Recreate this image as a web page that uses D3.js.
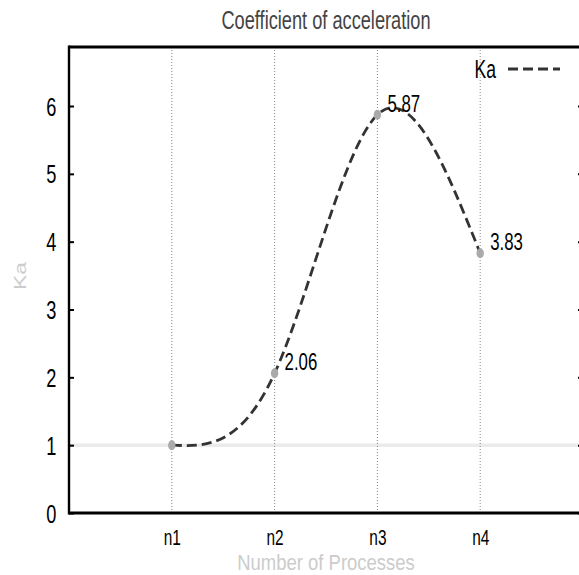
<!DOCTYPE html>
<html><head><meta charset="utf-8">
<script src="https://cdn.jsdelivr.net/npm/d3@7"></script>
<style>body{margin:0;background:#fff}svg{display:block}text{font-family:"Liberation Sans",Arial,sans-serif}</style>
</head><body>
<svg id="c" width="579" height="575"></svg>
<script>
const categories = ["n1","n2","n3","n4"];
const values = [1, 2.06, 5.87, 3.83];
const yTicks = [0,1,2,3,4,5,6];
const seriesName = "Ka";

const svg = d3.select("#c");
const m = {l:69, r:583, t:47, b:513};
const SQ = 0.7; // horizontal squeeze of glyphs
const x = d3.scaleLinear().domain([0,5]).range([m.l,m.r]);
const y = d3.scaleLinear().domain([0,6.87]).range([m.b,m.t]);
const pts = categories.map((c,i)=>({c, i:i+1, v:values[i]}));

svg.append("line").attr("x1",m.l).attr("x2",m.r).attr("y1",y(1)).attr("y2",y(1))
  .attr("stroke","#ebebeb").attr("stroke-width",3.5);

svg.selectAll(".vg").data(pts).enter().append("line")
  .attr("x1",d=>x(d.i)).attr("x2",d=>x(d.i)).attr("y1",m.t).attr("y2",m.b)
  .attr("stroke","#888").attr("stroke-width",1).attr("stroke-dasharray","1,2");

const yAxisL = d3.axisLeft(y).tickValues(yTicks).tickFormat(d3.format("d")).tickSizeInner(-5).tickSizeOuter(0).tickPadding(12.5);
const gy = svg.append("g").attr("transform",`translate(${m.l},0)`).call(yAxisL);
gy.select(".domain").remove();
gy.selectAll("text").attr("font-size",26).attr("fill","#000").attr("dy","0.35em");
gy.selectAll("line").attr("stroke","#000").attr("stroke-width",2);
const yAxisR = d3.axisRight(y).tickValues(yTicks).tickSize(-5).tickFormat("");
const gyr = svg.append("g").attr("transform",`translate(${m.r},0)`).call(yAxisR);
gyr.select(".domain").remove();
gyr.selectAll("line").attr("stroke","#000").attr("stroke-width",2);

const xAxis = d3.axisBottom(x).tickValues(pts.map(d=>d.i)).tickFormat((d,i)=>categories[i]).tickSize(0).tickPadding(16);
const gx = svg.append("g").attr("transform",`translate(0,${m.b})`).call(xAxis);
gx.select(".domain").remove();
gx.selectAll("text").attr("font-size",22).attr("fill","#000");

svg.append("line").attr("x1",m.l).attr("x2",m.r).attr("y1",m.b).attr("y2",m.b).attr("stroke","#000").attr("stroke-width",3);
svg.append("line").attr("x1",m.l).attr("x2",m.r).attr("y1",m.t).attr("y2",m.t).attr("stroke","#000").attr("stroke-width",3);
svg.append("line").attr("x1",m.l).attr("x2",m.l).attr("y1",m.t-1.5).attr("y2",m.b+1.5).attr("stroke","#000").attr("stroke-width",2.4);

const line = d3.line().x(d=>x(d.i)).y(d=>y(d.v)).curve(d3.curveNatural);
svg.append("path").datum(pts).attr("d",line).attr("fill","none")
  .attr("stroke","#333").attr("stroke-width",2.8).attr("stroke-dasharray","10,5");

svg.selectAll(".pt").data(pts).enter().append("ellipse")
  .attr("cx",d=>x(d.i)).attr("cy",d=>y(d.v)).attr("rx",3.7).attr("ry",5).attr("fill","#aaa");

svg.selectAll(".lbl").data(pts.filter(d=>d.v!==1)).enter().append("text")
  .attr("x",d=>x(d.i)+10).attr("y",d=>y(d.v)-11.5).attr("dy","0.35em")
  .attr("font-size",24).attr("fill","#000").text(d=>d3.format(".2f")(d.v));

svg.append("text").attr("x",(m.l+m.r)/2).attr("y",29).attr("text-anchor","middle")
  .attr("font-size",26).attr("fill","#444").text("Coefficient of acceleration");

const xl = svg.append("text").attr("x",(m.l+m.r)/2).attr("y",570).attr("text-anchor","middle")
  .attr("font-size",22).attr("fill","#ccc").text("Number of Processes");

svg.append("text").attr("x",496).attr("y",78).attr("text-anchor","end")
  .attr("font-size",25).attr("fill","#000").text(seriesName);
svg.append("line").attr("x1",508).attr("x2",560).attr("y1",69).attr("y2",69)
  .attr("stroke","#333").attr("stroke-width",2.8).attr("stroke-dasharray","10,5");

svg.selectAll("text").each(function(){
  const w = this.getComputedTextLength();
  const f = (this === xl.node()) ? 0.84 : SQ;
  d3.select(this).attr("textLength", w*f).attr("lengthAdjust","spacingAndGlyphs");
});

svg.append("text").attr("transform",`translate(20.5,276) scale(${SQ},1) rotate(-90)`).attr("dy","0.35em").attr("text-anchor","middle")
  .attr("font-size",23).attr("fill","#ccc").text(seriesName);
</script>
</body></html>
